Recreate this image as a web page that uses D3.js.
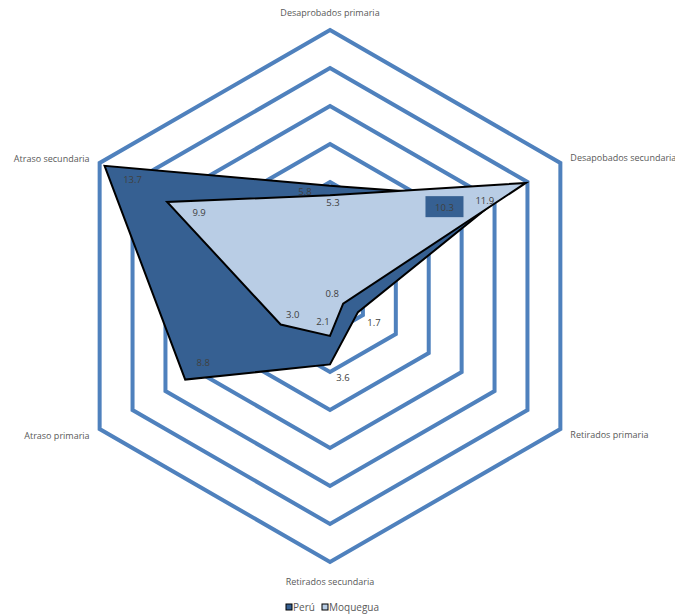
<!DOCTYPE html>
<html>
<head>
<meta charset="utf-8">
<script src="https://cdn.jsdelivr.net/npm/d3@7"></script>
<style>
  html, body { margin: 0; padding: 0; background: #fff; }
  svg { display: block; }
</style>
</head>
<body>
<svg id="chart" width="675" height="616"></svg>
<script>
// ---- data ----
const axes = ["Desaprobados primaria", "Desapobados secundaria", "Retirados primaria",
              "Retirados secundaria", "Atraso primaria", "Atraso secundaria"];
const seriesNames = ["Perú", "Moquegua"];
const peru = [5.8, 10.3, 1.7, 3.6, 8.8, 13.7];
const moquegua = [5.3, 11.9, 0.8, 2.1, 3.0, 9.9];
const ringValues = [2, 4, 6, 8, 10, 12, 14];

// ---- presentation ----
const W = 675, H = 616;
const cx = 330, cy = 296, R = 266;
const colors = { "Perú": "#366092", "Moquegua": "#B9CDE5" };
const labelOffsets = {
  "Perú": [[-25, 6], [-55, 9], [16, 10], [13, 13], [18, -17], [28, 14]],
  "Moquegua": [[3, 7], [-41, 18], [-11, -10], [-7, -14], [12, -10], [32, 11]]
};

const svg = d3.select("#chart");
const r = d3.scaleLinear().domain([0, 14]).range([0, R]);
const angle = d3.scalePoint().domain(d3.range(axes.length)).range([0, 300]); // degrees
function pt(i, v) {
  const a = (angle(i) - 90) * Math.PI / 180;
  return [cx + r(v) * Math.cos(a), cy + r(v) * Math.sin(a)];
}
const line = d3.line();

// grid rings
svg.append("g").selectAll("path").data(ringValues).join("path")
  .attr("d", v => line(axes.map((_, i) => pt(i, v))) + "Z")
  .attr("fill", "none")
  .attr("stroke", "#4F81BD")
  .attr("stroke-width", 4)
  .attr("stroke-linejoin", "miter");

// series polygons
const series = [{ name: "Perú", values: peru }, { name: "Moquegua", values: moquegua }];
svg.append("g").selectAll("path").data(series).join("path")
  .attr("d", s => line(s.values.map((v, i) => pt(i, v))) + "Z")
  .attr("fill", s => colors[s.name])
  .attr("stroke", "#000")
  .attr("stroke-width", 2)
  .attr("stroke-linejoin", "miter");

// data labels
const lbl = svg.append("g").attr("font-family", "'Open Sans', sans-serif").attr("font-size", 9.5).attr("fill", "#404040");
series.forEach(s => {
  s.values.forEach((v, i) => {
    const p = pt(i, v);
    const off = labelOffsets[s.name][i];
    const x = p[0] + off[0], y = p[1] + off[1];
    if (s.name === "Perú" && i === 1) {
      lbl.append("rect").attr("x", x - 19).attr("y", y - 11).attr("width", 38).attr("height", 21)
        .attr("fill", colors["Perú"]);
    }
    lbl.append("text").attr("x", x).attr("y", y).attr("text-anchor", "middle")
      .attr("dominant-baseline", "central").text(v.toFixed(1));
  });
});

// axis labels
const axLbl = svg.append("g").attr("font-family", "'Open Sans', sans-serif").attr("font-size", 9).attr("fill", "#595959");
axes.forEach((name, i) => {
  const p = pt(i, 14);
  let x = p[0], y = p[1], anchor = "middle";
  if (i === 0) { y -= 18; }
  else if (i === 3) { y += 19; }
  else if (i === 1 || i === 2) { x += 10; y += (i === 1 ? -6 : 5); anchor = "start"; }
  else { x -= 10; y += (i === 5 ? -5 : 6); anchor = "end"; }
  axLbl.append("text").attr("x", x).attr("y", y).attr("text-anchor", anchor)
    .attr("dominant-baseline", "central").text(name);
});

// legend
const leg = svg.append("g").attr("font-family", "'Open Sans', sans-serif").attr("font-size", 10).attr("fill", "#595959");
const legX = [286, 322];
seriesNames.forEach((n, k) => {
  leg.append("rect").attr("x", legX[k]).attr("y", 604).attr("width", 6).attr("height", 6)
    .attr("fill", colors[n]).attr("stroke", "#000").attr("stroke-width", 1);
  leg.append("text").attr("x", legX[k] + 7).attr("y", 607).attr("dominant-baseline", "central").text(n);
});
</script>
</body>
</html>
